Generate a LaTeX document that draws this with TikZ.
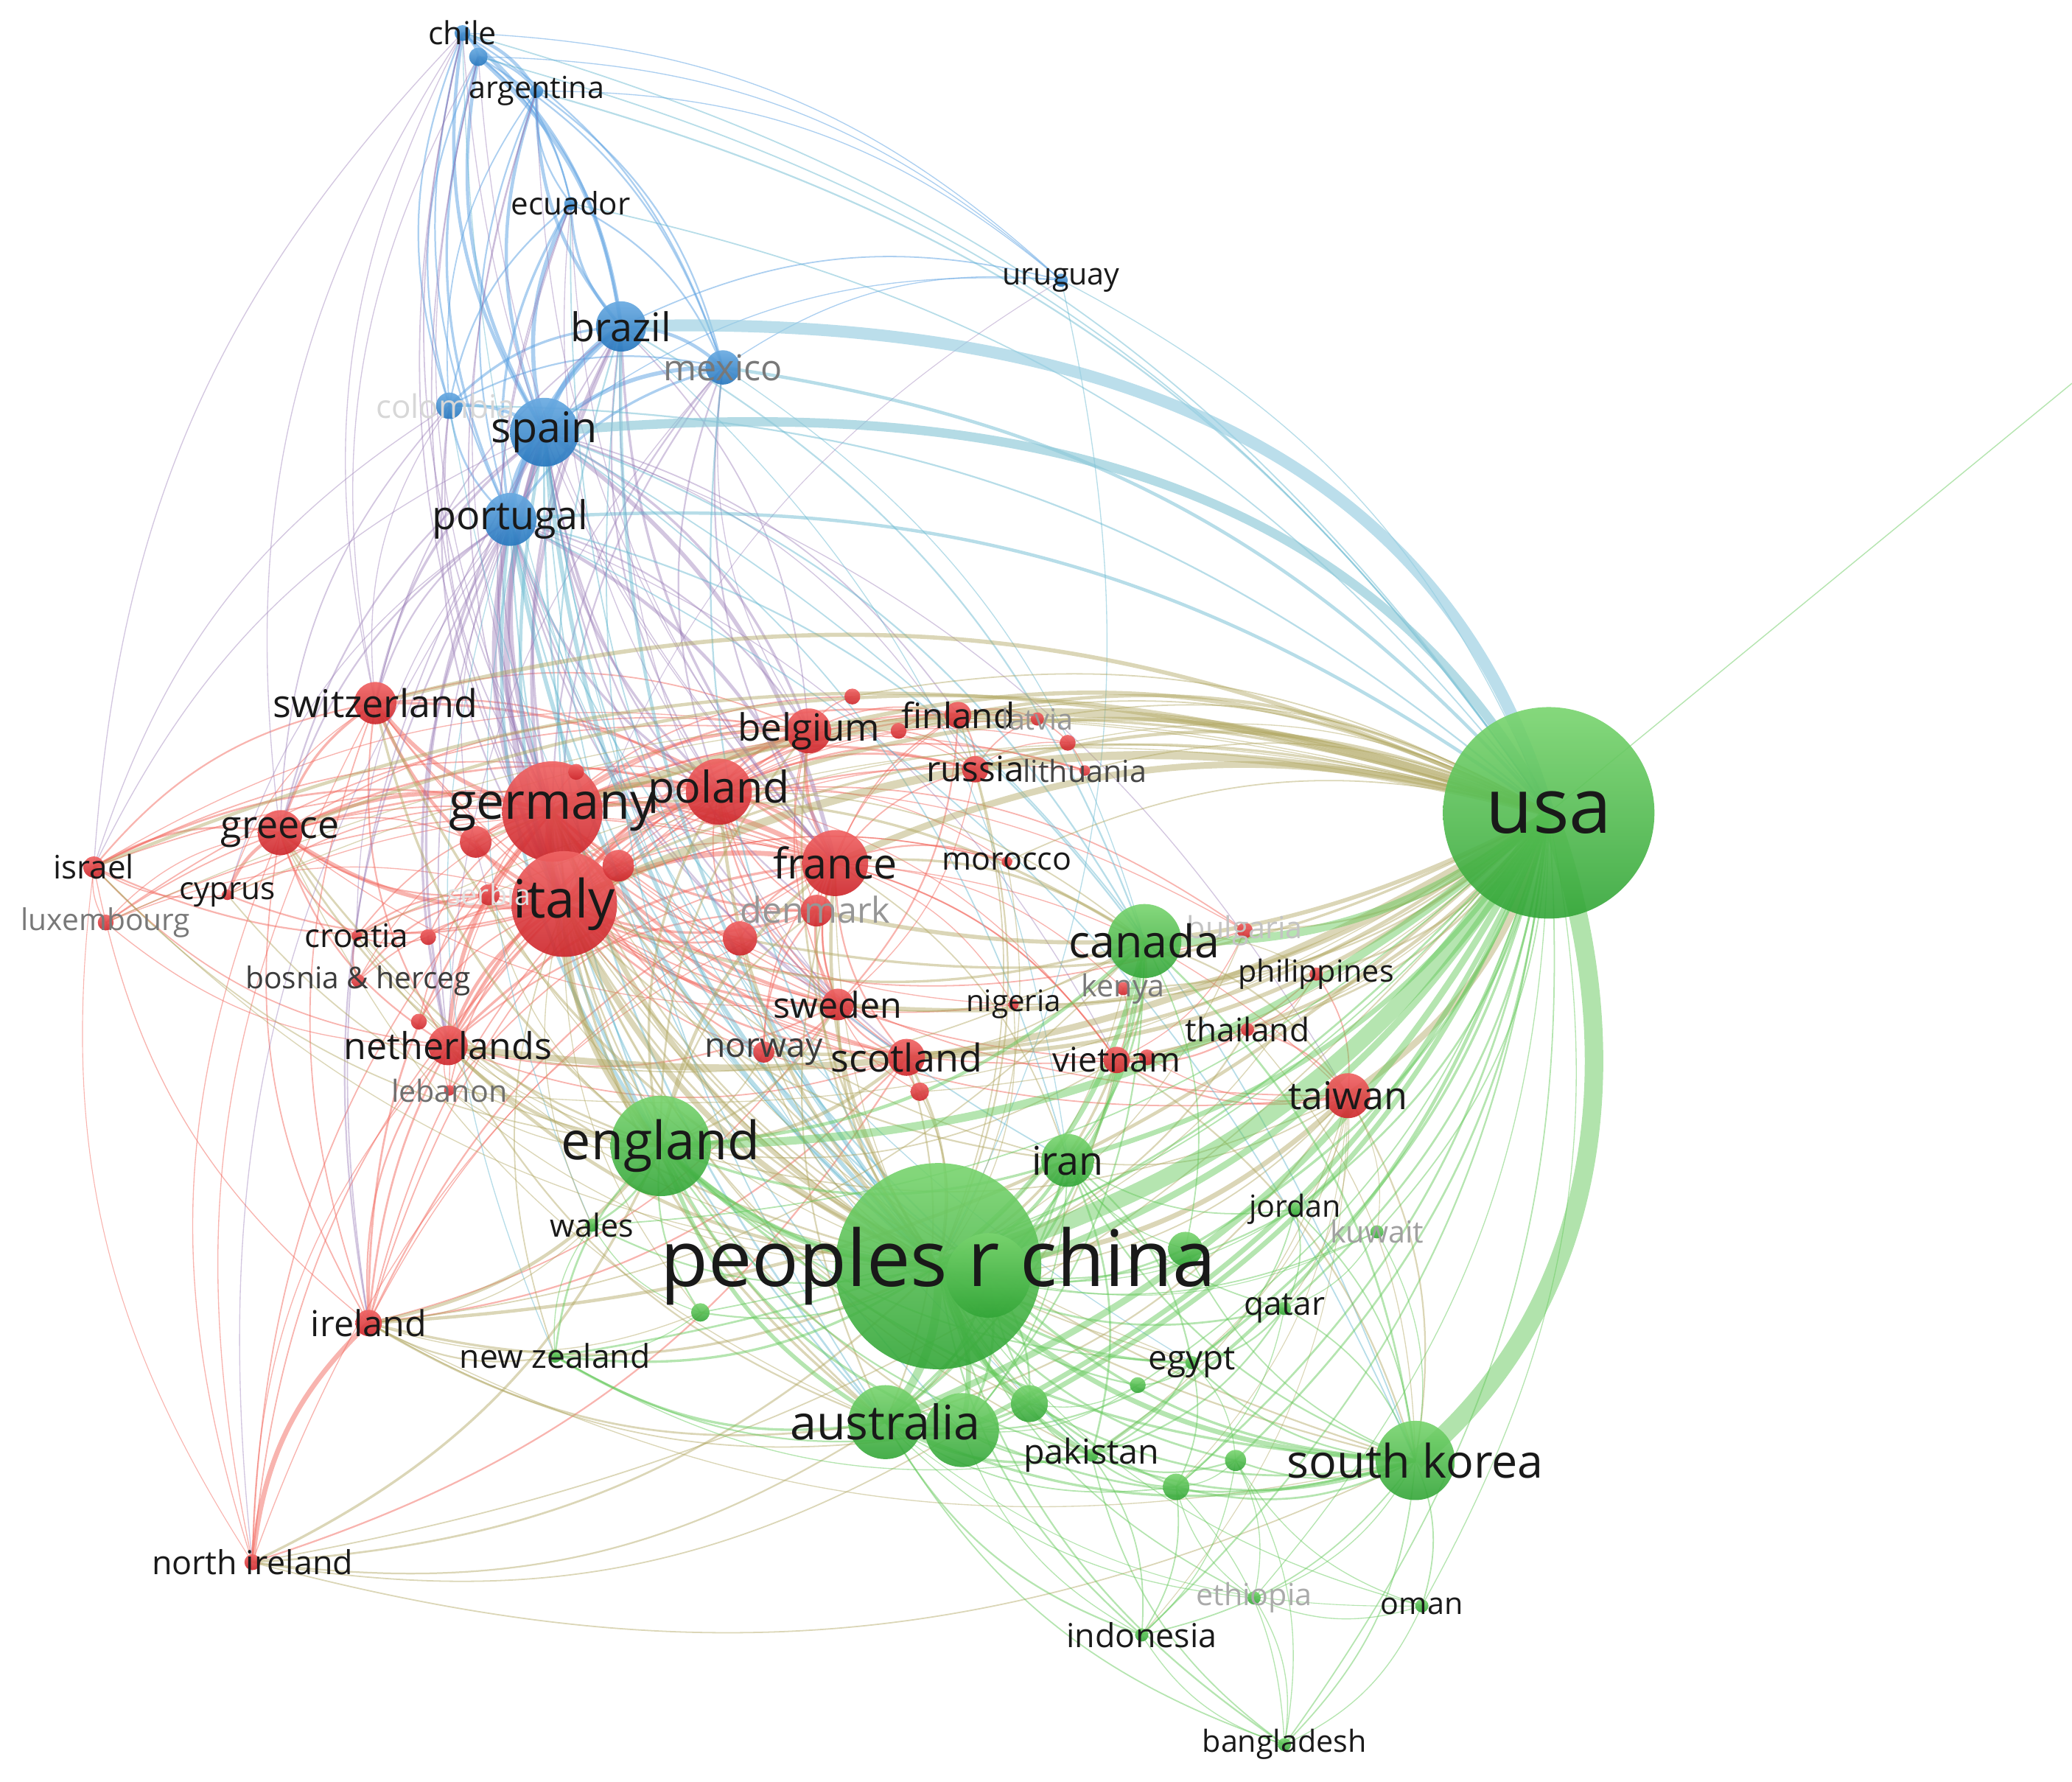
\documentclass[tikz,border=0pt]{standalone}
\usepackage{fontspec}
\setmainfont{Open Sans}
\usetikzlibrary{calc}
\definecolor{rtop}{RGB}{240,100,100}
\definecolor{rbot}{RGB}{205,40,45}
\definecolor{gtop}{RGB}{120,212,110}
\definecolor{gbot}{RGB}{50,165,55}
\definecolor{btop}{RGB}{105,170,225}
\definecolor{bbot}{RGB}{40,120,190}
\definecolor{ER}{RGB}{242,105,95}
\definecolor{EG}{RGB}{100,200,90}
\definecolor{EB}{RGB}{90,160,225}
\definecolor{ERG}{RGB}{175,165,95}
\definecolor{EBR}{RGB}{150,120,180}
\definecolor{EBG}{RGB}{95,180,205}
\definecolor{labc}{RGB}{25,25,25}
\tikzset{
  rn/.style={circle, inner sep=0, minimum size={2*#1}, top color=rtop, bottom color=rbot, opacity=0.92},
  gn/.style={circle, inner sep=0, minimum size={2*#1}, top color=gtop, bottom color=gbot, opacity=0.9},
  bn/.style={circle, inner sep=0, minimum size={2*#1}, top color=btop, bottom color=bbot, opacity=0.92},
  lab/.style={font=\fontsize{#1}{#1}\selectfont, inner sep=0, text=labc},
  er/.style={draw=ER, draw opacity=0.5},
  eg/.style={draw=EG, draw opacity=0.48},
  eb/.style={draw=EB, draw opacity=0.5},
  erg/.style={draw=ERG, draw opacity=0.45},
  ebr/.style={draw=EBR, draw opacity=0.42},
  ebg/.style={draw=EBG, draw opacity=0.45},
}
\newcommand\vosedge[4]{\draw[#1,line width={1.25*#4}] let \p1=(#2),\p2=(#3),
  \n1={scalar(((\x1-650)/100)*((\y2+680)/100)-((\y1+680)/100)*((\x2-650)/100))},
  \n2={ifthenelse(\n1<0,20,-20)}, \n3={ifthenelse(\n1<0,-20,20)} in
  (#2) .. controls ($(#2)!0.39!\n2:(#3)$) and ($(#3)!0.39!\n3:(#2)$) .. (#3);}
\begin{document}
\begin{tikzpicture}[x=1pt,y=-1pt]
\useasboundingbox (0,0) rectangle (1568,1348.3);
% ---------- positions
\coordinate (chile) at (350,25);
\coordinate (bhid) at (362,43);
\coordinate (argentina) at (406,69);
\coordinate (ecuador) at (432,154);
\coordinate (brazil) at (470,247);
\coordinate (mexico) at (547,278);
\coordinate (colombia) at (340,307);
\coordinate (spain) at (412,327);
\coordinate (portugal) at (386,393);
\coordinate (uruguay) at (803,212);
\coordinate (germany) at (418,614);
\coordinate (italy) at (427,684);
\coordinate (poland) at (544,599);
\coordinate (france) at (632,653);
\coordinate (belgium) at (612,553);
\coordinate (finland) at (725,541);
\coordinate (latvia) at (785,544);
\coordinate (russia) at (738,582);
\coordinate (lithuania) at (821,583);
\coordinate (denmark) at (618,689);
\coordinate (sweden) at (634,760);
\coordinate (norway) at (578,796);
\coordinate (scotland) at (686,800);
\coordinate (switzerland) at (284,532);
\coordinate (greece) at (212,630);
\coordinate (israel) at (71,656);
\coordinate (cyprus) at (172,677);
\coordinate (luxembourg) at (80,698);
\coordinate (croatia) at (270,708);
\coordinate (slov) at (324,709);
\coordinate (serbia) at (370,677);
\coordinate (bosnia) at (271,742);
\coordinate (rhA) at (317,773);
\coordinate (netherlands) at (339,791);
\coordinate (lebanon) at (340,825);
\coordinate (ireland) at (279,1001);
\coordinate (nireland) at (191,1182);
\coordinate (morocco) at (762,652);
\coordinate (nigeria) at (767,760);
\coordinate (vietnam) at (845,802);
\coordinate (vdot) at (868,800);
\coordinate (taiwan) at (1020,829);
\coordinate (thailand) at (944,779);
\coordinate (philippines) at (996,737);
\coordinate (bulgaria) at (942,704);
\coordinate (kenya) at (850,748);
\coordinate (rh1) at (360,637);
\coordinate (rh2) at (468,655);
\coordinate (rh3) at (560,710);
\coordinate (rh5) at (645,527);
\coordinate (rh6) at (680,553);
\coordinate (rh7) at (436,584);
\coordinate (rh8) at (696,826);
\coordinate (rh10) at (808,562);
\coordinate (usa) at (1172,615);
\coordinate (china) at (710,958);
\coordinate (gh1) at (748,965);
\coordinate (gh8) at (897,945);
\coordinate (canada) at (866,712);
\coordinate (england) at (500,867);
\coordinate (iran) at (808,878);
\coordinate (australia) at (670,1076);
\coordinate (gh2) at (728,1082);
\coordinate (gh3) at (779,1062);
\coordinate (southkorea) at (1071,1105);
\coordinate (pakistan) at (826,1101);
\coordinate (egypt) at (902,1031);
\coordinate (gh6) at (861,1048);
\coordinate (qatar) at (972,990);
\coordinate (jordan) at (980,915);
\coordinate (kuwait) at (1042,932);
\coordinate (wales) at (448,927);
\coordinate (newzealand) at (420,1026);
\coordinate (gh7) at (530,993);
\coordinate (gh4) at (890,1125);
\coordinate (gh5) at (935,1105);
\coordinate (indonesia) at (864,1237);
\coordinate (ethiopia) at (949,1209);
\coordinate (oman) at (1076,1215);
\coordinate (bangladesh) at (972,1320);
\coordinate (outpt) at (1568,290);
% ---------- edges
\foreach \a/\b/\w in {germany/italy/4, germany/poland/3, germany/france/3, italy/france/3, italy/poland/3, poland/france/2, germany/belgium/2, italy/belgium/2, france/belgium/2, poland/belgium/1.5, germany/switzerland/2.5, italy/switzerland/2, france/switzerland/1.5, italy/greece/2.5, germany/greece/2, greece/switzerland/1.5, germany/netherlands/2.5, italy/netherlands/2, france/netherlands/1.5, netherlands/belgium/1.5, switzerland/netherlands/1, germany/sweden/2, italy/sweden/1.5, france/sweden/1.2, poland/sweden/1, germany/denmark/1.5, italy/denmark/1.5, france/denmark/1, sweden/denmark/1.2, germany/scotland/1.5, italy/scotland/1.2, france/scotland/1, sweden/scotland/1, germany/finland/1.2, italy/finland/1, poland/finland/1, sweden/finland/1, germany/russia/1.5, italy/russia/1, poland/russia/1.2, finland/russia/1, poland/lithuania/1, russia/lithuania/0.8, poland/latvia/0.8, finland/latvia/0.8, latvia/lithuania/0.8, russia/latvia/0.8, greece/cyprus/2, italy/cyprus/1, germany/cyprus/0.8, greece/israel/1.2, israel/germany/1.2, israel/italy/1, israel/switzerland/1, israel/netherlands/0.8, israel/france/0.8, israel/cyprus/0.8, israel/luxembourg/0.6, israel/poland/0.8, israel/belgium/0.6, luxembourg/germany/0.8, luxembourg/france/0.8, luxembourg/belgium/0.8, luxembourg/italy/0.6, luxembourg/greece/0.6, luxembourg/netherlands/0.6, greece/netherlands/1, greece/croatia/1, greece/serbia/1, greece/poland/1.2, greece/france/1.2, italy/croatia/1.2, italy/serbia/1.2, italy/bosnia/0.8, croatia/serbia/1, croatia/bosnia/1, serbia/bosnia/1, slov/italy/1, slov/germany/0.8, slov/croatia/0.8, rhA/italy/0.8, rhA/germany/0.8, lebanon/france/0.8, lebanon/italy/0.8, lebanon/netherlands/0.6, ireland/nireland/3, ireland/germany/1.2, ireland/italy/1.2, ireland/france/1, ireland/netherlands/1, ireland/scotland/1, ireland/switzerland/0.8, ireland/greece/0.8, ireland/israel/0.6, ireland/poland/0.8, ireland/sweden/0.8, ireland/belgium/0.8, ireland/denmark/0.6, nireland/italy/0.8, nireland/germany/0.8, nireland/scotland/1, nireland/switzerland/0.6, nireland/netherlands/0.6, nireland/greece/0.6, nireland/france/0.6, nireland/israel/0.5, sweden/norway/1.2, denmark/norway/1, germany/norway/1, italy/norway/0.8, france/norway/0.8, scotland/netherlands/0.8, scotland/norway/0.8, rh1/germany/1.5, rh1/italy/1.5, rh1/greece/0.8, rh2/germany/1.2, rh2/italy/1.2, rh2/poland/1, rh3/italy/1.2, rh3/france/1, rh3/germany/1, rh5/belgium/0.8, rh5/germany/0.8, rh6/finland/0.8, rh6/russia/0.8, rh7/germany/0.8, rh7/poland/0.8, rh8/scotland/0.8, rh8/sweden/0.6, rh10/russia/0.6, rh10/poland/0.6, vietnam/france/1, vietnam/taiwan/1, vietnam/thailand/1, taiwan/thailand/1, taiwan/philippines/0.8, vietnam/philippines/0.8, thailand/philippines/0.6, vdot/vietnam/0.8, vdot/taiwan/0.6, morocco/france/1, morocco/italy/0.8, morocco/poland/0.6, nigeria/italy/0.8, nigeria/germany/0.6, nigeria/france/0.6, kenya/vietnam/0.6, kenya/france/0.6, bulgaria/poland/0.8, bulgaria/italy/0.8, bulgaria/germany/0.6, bulgaria/vietnam/0.6, taiwan/germany/0.8, taiwan/italy/0.8, taiwan/france/0.6, vietnam/italy/0.8, vietnam/germany/0.8, switzerland/sweden/0.8, switzerland/belgium/0.8, switzerland/poland/1, switzerland/scotland/0.6, greece/sweden/0.6, greece/belgium/0.8, netherlands/sweden/1, netherlands/denmark/1, netherlands/poland/1, belgium/sweden/0.8, belgium/finland/0.8, belgium/russia/0.6, france/russia/0.8, france/finland/0.8, croatia/germany/0.8, serbia/germany/0.8, bosnia/germany/0.6, cyprus/france/0.6, cyprus/switzerland/0.6, lebanon/germany/0.6, france/sweden/0.8, poland/scotland/0.8, poland/denmark/0.8, belgium/denmark/0.6, russia/sweden/0.6, finland/denmark/0.6, rh3/poland/0.8, rh2/france/0.8, rh1/poland/0.8, germany/lithuania/0.6, italy/lithuania/0.6, italy/latvia/0.6, france/vietnam/0.6, poland/vietnam/0.6, italy/morocco/0.6}
  {\vosedge{er}{\a}{\b}{\w}}
\foreach \a/\b/\w in {chile/argentina/2, chile/brazil/1.5, chile/spain/2, chile/portugal/1, chile/ecuador/1, chile/mexico/1, chile/colombia/1, bhid/brazil/2.5, bhid/spain/2, bhid/argentina/1, bhid/ecuador/1, bhid/mexico/1, bhid/portugal/1.5, bhid/colombia/1, bhid/chile/1.5, argentina/brazil/2, argentina/spain/2, argentina/mexico/1, argentina/portugal/1, argentina/ecuador/1, argentina/colombia/0.8, ecuador/spain/2.5, ecuador/brazil/1.5, ecuador/portugal/1.5, ecuador/mexico/1, ecuador/colombia/1, brazil/spain/3, brazil/portugal/3, brazil/mexico/2, brazil/colombia/1.5, mexico/spain/2.5, mexico/portugal/1.5, mexico/colombia/1, colombia/spain/2, colombia/portugal/1.2, spain/portugal/4, uruguay/brazil/0.8, uruguay/spain/0.6, uruguay/chile/0.6, uruguay/argentina/0.6, uruguay/mexico/0.6, uruguay/bhid/0.6}
  {\vosedge{eb}{\a}{\b}{\w}}
\foreach \a/\b/\w in {spain/germany/3, spain/italy/3.5, spain/france/2.5, spain/poland/1.5, spain/belgium/1.5, spain/netherlands/1.5, spain/switzerland/1.5, spain/greece/1, spain/sweden/1, spain/scotland/1, spain/denmark/1, spain/ireland/0.8, spain/finland/0.8, spain/russia/0.6, spain/israel/0.6, spain/taiwan/0.6, portugal/italy/3, portugal/germany/2, portugal/france/2, portugal/poland/1.5, portugal/greece/1, portugal/netherlands/1.5, portugal/belgium/1, portugal/switzerland/1, portugal/ireland/1, portugal/sweden/1, portugal/scotland/1, portugal/croatia/0.6, portugal/serbia/0.6, portugal/nireland/0.6, portugal/cyprus/0.6, portugal/vietnam/0.6, brazil/italy/2, brazil/germany/1.5, brazil/france/1.5, brazil/poland/1, brazil/netherlands/0.8, brazil/switzerland/0.8, brazil/belgium/0.8, brazil/sweden/0.6, mexico/italy/1, mexico/germany/1, mexico/france/1, mexico/poland/1, mexico/belgium/0.6, mexico/netherlands/0.6, colombia/italy/1, colombia/greece/0.8, colombia/israel/0.6, colombia/germany/0.8, colombia/switzerland/0.6, chile/italy/0.8, chile/germany/0.8, chile/israel/0.6, chile/greece/0.6, chile/switzerland/0.6, chile/france/0.6, argentina/italy/0.8, argentina/germany/0.6, argentina/france/0.6, ecuador/italy/0.8, ecuador/germany/0.8, ecuador/poland/0.6, ecuador/france/0.6, bhid/italy/0.8, bhid/germany/0.6, bhid/france/0.6, bhid/switzerland/0.6, uruguay/italy/0.5}
  {\vosedge{ebr}{\a}{\b}{\w}}
\foreach \a/\b/\w in {spain/china/2.5, portugal/china/2.5, brazil/china/2, spain/england/2, portugal/england/2, brazil/england/1, mexico/usa/2, mexico/china/1, chile/usa/0.8, argentina/usa/1, colombia/usa/1, ecuador/china/0.8, uruguay/usa/0.6, uruguay/china/0.6, portugal/australia/1, spain/australia/1.2, spain/canada/1, portugal/canada/1, brazil/canada/1, portugal/usa/2, bhid/usa/0.8, ecuador/usa/0.8, spain/iran/0.8, portugal/iran/0.8, spain/southkorea/0.8, portugal/southkorea/0.8, brazil/australia/0.8, mexico/canada/0.6, chile/china/0.6, colombia/china/0.6, spain/gh1/1, portugal/gh1/1, spain/gh2/0.8, portugal/newzealand/0.6, spain/pakistan/0.6, brazil/iran/0.6, portugal/egypt/0.6, spain/wales/0.6}
  {\vosedge{ebg}{\a}{\b}{\w}}
\foreach \a/\b/\w in {usa/germany/5, usa/italy/5, usa/france/4, usa/poland/2.5, usa/belgium/2.5, usa/switzerland/2.5, usa/netherlands/4, usa/sweden/2.5, usa/denmark/2.5, usa/scotland/2.5, usa/finland/2, usa/russia/2, usa/greece/2, usa/taiwan/4, usa/ireland/2, usa/israel/2, usa/vietnam/2, usa/norway/2, usa/latvia/0.8, usa/lithuania/0.8, usa/bulgaria/1, usa/thailand/1.2, usa/philippines/1.2, usa/nigeria/1, usa/kenya/1, usa/morocco/0.8, usa/rh5/0.8, usa/rh6/0.8, usa/rh1/1.5, usa/rh2/1.5, usa/rh3/1.5, usa/nireland/0.8, usa/cyprus/0.6, usa/croatia/0.6, usa/serbia/0.6, usa/lebanon/0.6, usa/luxembourg/0.6, usa/rh10/0.6, usa/rh8/0.6, usa/vdot/0.6, china/germany/3, china/italy/3.5, china/france/2, china/poland/2, china/netherlands/2, china/taiwan/3, china/vietnam/1.5, china/sweden/1.5, china/scotland/1.5, china/ireland/1.5, china/nireland/1.2, china/switzerland/1.5, china/greece/1.2, china/belgium/1.2, china/denmark/1.2, china/russia/1, china/thailand/1, china/finland/0.8, china/norway/0.8, china/rh3/0.8, china/rh8/0.8, china/kenya/0.6, china/nigeria/0.6, china/morocco/0.6, china/israel/0.6, china/bulgaria/0.6, china/philippines/0.6, china/serbia/0.6, china/croatia/0.6, china/lebanon/0.6, england/germany/2.5, england/italy/3, england/france/2, england/netherlands/2, england/ireland/2, england/nireland/1.5, england/scotland/2, england/greece/1.2, england/switzerland/1.5, england/poland/1.5, england/sweden/1.2, england/belgium/1.2, england/israel/0.8, england/cyprus/0.8, england/denmark/1, england/taiwan/0.8, england/vietnam/0.8, england/norway/0.8, england/serbia/0.6, england/croatia/0.6, england/lebanon/0.6, canada/germany/1.5, canada/italy/1.5, canada/france/1.5, canada/vietnam/1, canada/taiwan/1, canada/poland/0.8, canada/netherlands/0.8, canada/sweden/0.8, canada/ireland/0.8, canada/scotland/0.8, canada/kenya/0.6, canada/bulgaria/0.6, canada/philippines/0.6, australia/germany/1.2, australia/italy/1.5, australia/ireland/1.2, australia/nireland/1, australia/netherlands/1, australia/scotland/1, australia/taiwan/1, australia/vietnam/1, australia/france/1, australia/greece/0.6, southkorea/taiwan/1, southkorea/vietnam/1, southkorea/italy/1, southkorea/germany/1, southkorea/nireland/0.8, southkorea/ireland/0.6, southkorea/thailand/0.6, iran/italy/1, iran/france/0.8, iran/germany/0.8, iran/taiwan/0.8, iran/vietnam/0.6, newzealand/ireland/1, newzealand/italy/0.8, wales/italy/0.6, wales/ireland/0.6, pakistan/italy/0.8, pakistan/taiwan/0.6, egypt/italy/0.8, egypt/germany/0.6, egypt/taiwan/0.6, gh1/italy/1.2, gh1/germany/1, gh1/taiwan/0.8, gh2/italy/1, gh2/ireland/0.8, gh2/nireland/0.8, gh3/italy/0.8, gh3/france/0.6, jordan/taiwan/0.6, qatar/taiwan/0.6, indonesia/taiwan/0.5, gh4/taiwan/0.5, kuwait/taiwan/0.5, gh7/ireland/0.6, gh7/italy/0.6}
  {\vosedge{erg}{\a}{\b}{\w}}
\foreach \a/\b/\w in {usa/china/10, usa/canada/5, usa/england/5, usa/australia/4, usa/iran/3, usa/gh1/4, usa/gh2/3, usa/gh3/3, usa/pakistan/2, usa/egypt/1.5, usa/qatar/1.2, usa/jordan/1.2, usa/kuwait/0.8, usa/indonesia/1, usa/oman/0.6, usa/bangladesh/0.8, usa/ethiopia/0.6, usa/wales/0.8, usa/newzealand/1.2, usa/gh4/1.2, usa/gh5/1.2, usa/gh6/0.8, usa/gh7/0.8, usa/gh8/1.5, china/england/4, china/australia/5, china/canada/3, china/southkorea/3, china/iran/2, china/gh1/4, china/gh2/3, china/gh3/3, china/pakistan/2.5, china/egypt/1.5, china/qatar/1.2, china/jordan/1, china/kuwait/0.8, china/indonesia/1, china/bangladesh/1, china/ethiopia/0.8, china/oman/0.6, china/wales/1, china/newzealand/1.5, china/gh4/1.2, china/gh5/1.2, china/gh6/1, china/gh7/1, china/gh8/1.2, england/australia/2.5, england/canada/2, england/southkorea/1.5, england/iran/1.5, england/wales/1.2, england/newzealand/1.2, england/gh7/1, england/gh2/1.5, england/gh1/1.5, england/pakistan/1, england/egypt/1, canada/australia/1.5, canada/iran/1.2, canada/southkorea/1.2, canada/gh1/1.5, canada/gh2/1, canada/gh8/0.8, australia/gh2/2, australia/gh3/1.5, australia/southkorea/1.5, australia/pakistan/1.5, australia/iran/1.2, australia/newzealand/1.5, australia/indonesia/1, australia/bangladesh/0.8, australia/ethiopia/0.6, australia/egypt/1, australia/gh1/1.5, australia/gh4/0.8, australia/oman/0.5, southkorea/gh1/1.5, southkorea/gh2/1.2, southkorea/gh3/1.2, southkorea/pakistan/1.2, southkorea/gh4/1.2, southkorea/gh5/1, southkorea/egypt/1, southkorea/qatar/0.8, southkorea/jordan/0.8, southkorea/kuwait/0.6, southkorea/oman/0.8, southkorea/indonesia/0.8, southkorea/bangladesh/0.8, southkorea/ethiopia/0.6, southkorea/iran/1, southkorea/gh8/0.8, iran/gh1/1.2, iran/gh2/0.8, iran/pakistan/1.2, iran/egypt/1, iran/qatar/0.8, iran/jordan/0.8, iran/gh8/0.6, pakistan/gh4/1, pakistan/gh5/1, pakistan/egypt/1, pakistan/qatar/1, pakistan/bangladesh/0.8, pakistan/indonesia/0.8, pakistan/gh1/1, pakistan/gh2/1, pakistan/gh3/0.8, egypt/qatar/1, egypt/jordan/0.8, egypt/gh4/0.8, egypt/gh6/0.8, egypt/gh5/0.6, qatar/jordan/0.8, qatar/kuwait/0.6, qatar/gh4/0.6, indonesia/bangladesh/0.6, indonesia/gh4/0.8, indonesia/gh2/0.6, indonesia/gh5/0.6, ethiopia/gh4/0.6, ethiopia/bangladesh/0.6, ethiopia/gh5/0.6, oman/gh5/0.6, oman/bangladesh/0.6, oman/ethiopia/0.6, gh4/bangladesh/0.6, gh5/bangladesh/0.6, gh3/gh2/1, gh1/gh2/1.5, gh1/gh3/1.2, gh4/gh5/0.6, wales/newzealand/0.6, wales/gh7/0.6, newzealand/gh2/1, newzealand/pakistan/0.6, newzealand/gh7/0.6, jordan/gh1/0.6, kuwait/gh1/0.5, gh6/gh3/0.6, gh6/gh2/0.6}
  {\vosedge{eg}{\a}{\b}{\w}}
% special thick links
\draw[draw={rgb,255:red,150;green,205;blue,225}, draw opacity=0.65, line width=9pt] (brazil) .. controls (760,238) and (1080,300) .. (usa);
\draw[draw={rgb,255:red,140;green,200;blue,215}, draw opacity=0.65, line width=7pt] (spain) .. controls (700,300) and (1020,330) .. (usa);
\draw[draw=EG, draw opacity=0.5, line width=14pt] (usa) .. controls (1232,780) and (1222,980) .. (southkorea);
\draw[eg, line width=0.8pt] (usa) -- (outpt);
% ---------- circles
\foreach \n/\r in {chile/6, bhid/7, argentina/5, ecuador/5, brazil/19, mexico/13, colombia/10, spain/26, portugal/20, uruguay/5}
  {\node[bn=\r] (c-\n) at (\n) {};}
\foreach \n/\r in {germany/38, italy/40, poland/25, france/25, belgium/17, finland/10, latvia/5, russia/10, lithuania/4, denmark/12, sweden/12, norway/8, scotland/14, switzerland/16, greece/17, israel/8, cyprus/4, luxembourg/6, croatia/4, slov/6, serbia/8, bosnia/5, rhA/6, netherlands/15, lebanon/4, ireland/10, nireland/6, morocco/4, nigeria/4, vietnam/10, vdot/6, taiwan/17, thailand/5, philippines/5, bulgaria/6, kenya/5, rh1/12, rh2/12, rh3/13, rh5/6, rh6/6, rh7/6, rh8/7, rh10/6}
  {\node[rn=\r] (c-\n) at (\n) {};}
\foreach \n/\r in {usa/80, china/78, gh1/32, gh8/13, canada/28, england/38, iran/20, australia/28, gh2/28, gh3/14, southkorea/30, pakistan/5, egypt/5, gh6/6, qatar/5, jordan/5, kuwait/5, wales/5, newzealand/5, gh7/7, gh4/10, gh5/8, indonesia/5, ethiopia/5, oman/5, bangladesh/5}
  {\node[gn=\r] (c-\n) at (\n) {};}
% ---------- labels
\node[lab=24] (l-chile) at (chile) {chile};
\node[lab=23] (l-argentina) at (argentina) {argentina};
\node[lab=23.5] (l-ecuador) at (ecuador) {ecuador};
\node[lab=30] (l-brazil) at (brazil) {brazil};
\node[lab=27, text={rgb,255:red,120;green,120;blue,120}] (l-mexico) at (mexico) {mexico};
\node[lab=24.5, text={rgb,255:red,215;green,215;blue,215}] (l-colombia) at (337,307) {colombia};
\node[lab=32] (l-spain) at (spain) {spain};
\node[lab=30] (l-portugal) at (portugal) {portugal};
\node[lab=23] (l-uruguay) at (uruguay) {uruguay};
\node[lab=38] (l-germany) at (germany) {germany};
\node[lab=40] (l-italy) at (italy) {italy};
\node[lab=33] (l-poland) at (poland) {poland};
\node[lab=32] (l-france) at (france) {france};
\node[lab=28.5] (l-belgium) at (belgium) {belgium};
\node[lab=26.5] (l-finland) at (finland) {finland};
\node[lab=22, text={rgb,255:red,150;green,150;blue,150}] (l-latvia) at (latvia) {latvia};
\node[lab=26.5] (l-russia) at (russia) {russia};
\node[lab=23, text={rgb,255:red,70;green,70;blue,70}] (l-lithuania) at (lithuania) {lithuania};
\node[lab=27, text={rgb,255:red,150;green,150;blue,150}] (l-denmark) at (617,688) {denmark};
\node[lab=27] (l-sweden) at (sweden) {sweden};
\node[lab=25.8, text={rgb,255:red,60;green,60;blue,60}] (l-norway) at (norway) {norway};
\node[lab=29] (l-scotland) at (scotland) {scotland};
\node[lab=29] (l-switzerland) at (switzerland) {switzerland};
\node[lab=29] (l-greece) at (greece) {greece};
\node[lab=24.5] (l-israel) at (israel) {israel};
\node[lab=23.6] (l-cyprus) at (cyprus) {cyprus};
\node[lab=22.7, text={rgb,255:red,120;green,120;blue,120}] (l-luxembourg) at (luxembourg) {luxembourg};
\node[lab=24.6] (l-croatia) at (croatia) {croatia};
\node[lab=22, text={rgb,255:red,225;green,225;blue,225}] (l-serbia) at (serbia) {serbia};
\node[lab=22.7, text={rgb,255:red,60;green,60;blue,60}] (l-bosnia) at (bosnia) {bosnia \& herceg};
\node[lab=28] (l-netherlands) at (netherlands) {netherlands};
\node[lab=23, text={rgb,255:red,110;green,110;blue,110}] (l-lebanon) at (lebanon) {lebanon};
\node[lab=27] (l-ireland) at (ireland) {ireland};
\node[lab=25] (l-nireland) at (nireland) {north ireland};
\node[lab=24] (l-morocco) at (morocco) {morocco};
\node[lab=22.5] (l-nigeria) at (nigeria) {nigeria};
\node[lab=25.7] (l-vietnam) at (vietnam) {vietnam};
\node[lab=29] (l-taiwan) at (taiwan) {taiwan};
\node[lab=24.6] (l-thailand) at (thailand) {thailand};
\node[lab=23] (l-philippines) at (philippines) {philippines};
\node[lab=23, text={rgb,255:red,195;green,195;blue,195}] (l-bulgaria) at (942,704) {bulgaria};
\node[lab=23, text={rgb,255:red,120;green,120;blue,120}] (l-kenya) at (kenya) {kenya};
\node[lab=58] (l-usa) at (usa) {usa};
\node[lab=59] (l-china) at (china) {peoples r china};
\node[lab=34] (l-canada) at (canada) {canada};
\node[lab=40] (l-england) at (england) {england};
\node[lab=30] (l-iran) at (iran) {iran};
\node[lab=36] (l-australia) at (australia) {australia};
\node[lab=35] (l-southkorea) at (southkorea) {south korea};
\node[lab=26] (l-pakistan) at (pakistan) {pakistan};
\node[lab=25.6] (l-egypt) at (egypt) {egypt};
\node[lab=24.6] (l-qatar) at (qatar) {qatar};
\node[lab=23] (l-jordan) at (jordan) {jordan};
\node[lab=23, text={rgb,255:red,160;green,160;blue,160}] (l-kuwait) at (kuwait) {kuwait};
\node[lab=24] (l-wales) at (wales) {wales};
\node[lab=24.8] (l-newzealand) at (newzealand) {new zealand};
\node[lab=25] (l-indonesia) at (indonesia) {indonesia};
\node[lab=23, text={rgb,255:red,170;green,170;blue,170}] (l-ethiopia) at (ethiopia) {ethiopia};
\node[lab=23] (l-oman) at (oman) {oman};
\node[lab=23] (l-bangladesh) at (bangladesh) {bangladesh};
\end{tikzpicture}
\end{document}
